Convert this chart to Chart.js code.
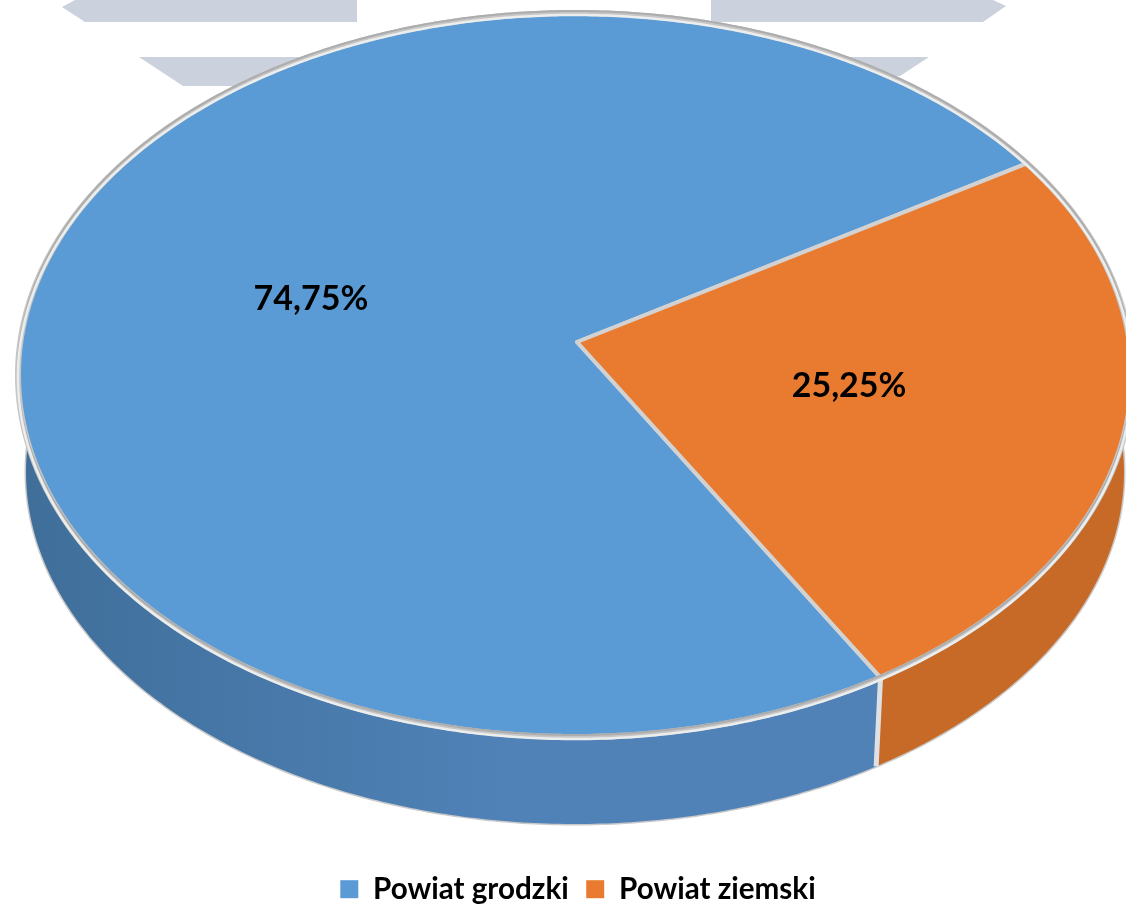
<!DOCTYPE html>
<html lang="pl">
<head>
<meta charset="utf-8">
<title>Powiat grodzki / Powiat ziemski</title>
<script src="https://cdn.jsdelivr.net/npm/chart.js@4"></script>
<style>
  html, body { margin: 0; padding: 0; background: #fff; overflow: hidden; }
  #wrap { position: relative; width: 1126px; height: 904px; }
</style>
</head>
<body>
<div id="wrap"><canvas id="pie"></canvas></div>
<script>
  const categories = ['Powiat grodzki', 'Powiat ziemski'];
  const shares = [74.75, 25.25];
  const shareLabels = ['74,75%', '25,25%'];
  const topColors = ['#5b9bd5', '#e97b30'];
  const sideLeftColors = ['#3f6e99', '#c06a2c'];
  const sideRightColors = ['#5082b8', '#c76a28'];
  const edgeColor = '#d2d2d2';

  // Ellipses of the top face and of the bottom edge, plus the perspective shift
  const topFace = { cx: 575, cy: 375, rx: 557, ry: 362 };
  const bottomFace = { cx: 575, cy: 472, rx: 549, ry: 352 };
  const tilt = -0.0912;
  const apexShift = 2;

  // Pale shapes cut off at the top of the picture, they sit behind the pie
  const backdrop = [
    [[75, 0], [62, 7], [85, 22], [357, 22], [357, 0]],
    [[711, 0], [711, 22], [983, 22], [1006, 6], [993, 0]],
    [[139, 57], [183, 86], [420, 86], [420, 57]],
    [[929, 57], [900, 76], [700, 76], [700, 57]]
  ];

  // Circle angle -> point on the tilted disc
  function project(angle, face, r = 1) {
    const x = Math.cos(angle) * r;
    const y = Math.sin(angle) * r;
    const w = 1 + tilt * y;
    return {
      x: face.cx + face.rx * Math.sqrt(1 - tilt * tilt) * x / w,
      y: face.cy + face.ry * (y + tilt) / w
    };
  }

  function tracePoints(ctx, start, end, face, first) {
    const steps = Math.ceil(Math.abs(end - start) / 0.01);
    for (let i = 0; i <= steps; i++) {
      const p = project(start + (end - start) * i / steps, face);
      if (i === 0 && first) ctx.moveTo(p.x, p.y);
      else ctx.lineTo(p.x, p.y);
    }
  }

  const pie3d = {
    id: 'pie3d',
    beforeDraw(chart) {
      const ctx = chart.ctx;
      ctx.save();
      ctx.fillStyle = '#cbd1dd';
      backdrop.forEach((shape) => {
        ctx.beginPath();
        shape.forEach(([x, y], i) => (i ? ctx.lineTo(x, y) : ctx.moveTo(x, y)));
        ctx.closePath();
        ctx.fill();
      });
      ctx.restore();
    },
    beforeDatasetsDraw(chart) {
      const ctx = chart.ctx;
      const arcs = chart.getDatasetMeta(0).data;
      ctx.save();
      ctx.lineJoin = 'round';

      // outline under the side wall
      ctx.strokeStyle = '#c9c9c9';
      ctx.lineWidth = 3;
      ctx.beginPath();
      tracePoints(ctx, 0, Math.PI * 2, bottomFace, true);
      ctx.closePath();
      ctx.stroke();

      // side walls
      arcs.forEach((arc, i) => {
        const grad = ctx.createLinearGradient(topFace.cx - topFace.rx, 0, topFace.cx + topFace.rx * 0.6, 0);
        grad.addColorStop(0, sideLeftColors[i]);
        grad.addColorStop(0.55, sideRightColors[i]);
        grad.addColorStop(1, sideRightColors[i]);
        ctx.fillStyle = grad;
        ctx.beginPath();
        tracePoints(ctx, arc.startAngle, arc.endAngle, topFace, true);
        tracePoints(ctx, arc.endAngle, arc.startAngle, bottomFace, false);
        ctx.closePath();
        ctx.fill();
      });

      // seam on the wall between the two slices
      const seamAngle = arcs[0].startAngle;
      const seamTop = project(seamAngle, topFace);
      const seamBottom = project(seamAngle, bottomFace);
      ctx.strokeStyle = '#dfe0e3';
      ctx.lineWidth = 5;
      ctx.beginPath();
      ctx.moveTo(seamTop.x, seamTop.y);
      ctx.lineTo(seamBottom.x, seamBottom.y);
      ctx.stroke();

      // top face
      const apex = project(0, topFace, 0);
      arcs.forEach((arc) => {
        ctx.fillStyle = arc.options.backgroundColor;
        ctx.strokeStyle = edgeColor;
        ctx.lineWidth = 4;
        ctx.beginPath();
        ctx.moveTo(apex.x + apexShift, apex.y);
        tracePoints(ctx, arc.startAngle, arc.endAngle, topFace, false);
        ctx.closePath();
        ctx.fill();
        ctx.stroke();
      });

      // rim: dark above, light below, gives the bevelled edge
      [['#c6c6c6', 0, 6], ['#adadad', -2, 2], ['#eceded', 2, 2.5]].forEach(([color, dy, width]) => {
        ctx.strokeStyle = color;
        ctx.lineWidth = width;
        ctx.beginPath();
        tracePoints(ctx, 0, Math.PI * 2, { ...topFace, cy: topFace.cy + dy }, true);
        ctx.closePath();
        ctx.stroke();
      });

      // value labels at half radius, on the middle of each slice
      ctx.fillStyle = '#000';
      ctx.font = 'bold 34px Lato';
      ctx.textAlign = 'center';
      ctx.textBaseline = 'middle';
      arcs.forEach((arc, i) => {
        const p = project((arc.startAngle + arc.endAngle) / 2, topFace, 0.5);
        ctx.fillText(shareLabels[i], p.x + apexShift, p.y);
      });
      ctx.restore();
      return false;
    }
  };

  new Chart(document.getElementById('pie'), {
    type: 'pie',
    data: {
      labels: categories,
      datasets: [{
        data: shares,
        backgroundColor: topColors,
        borderWidth: 0
      }]
    },
    plugins: [pie3d],
    options: {
      responsive: true,
      maintainAspectRatio: false,
      animation: false,
      rotation: 149.5,
      layout: { padding: { bottom: -10, left: 30 } },
      plugins: {
        tooltip: { enabled: false },
        legend: {
          position: 'bottom',
          labels: {
            boxWidth: 18,
            boxHeight: 18,
            padding: 17.5,
            color: '#000',
            font: { family: 'Lato', size: 29.6, weight: 'bold' }
          }
        }
      }
    }
  });
</script>
</body>
</html>
